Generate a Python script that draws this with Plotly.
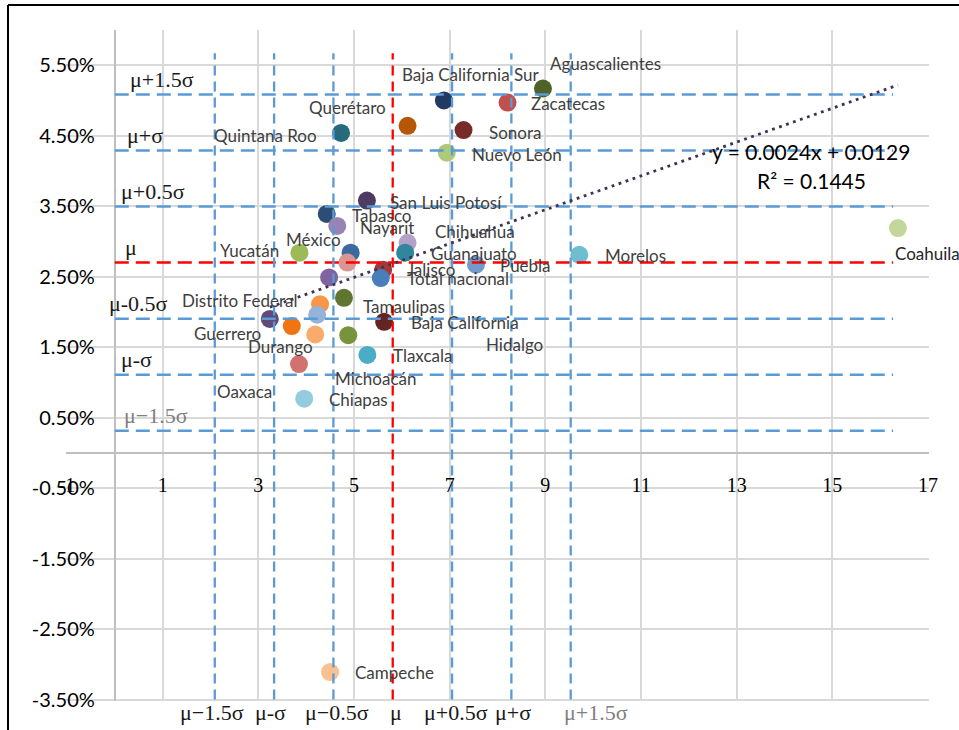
import plotly.graph_objects as go

# ---------------------------------------------------------------- data
states = [
    "Aguascalientes", "Baja California Sur", "Zacatecas", "Querétaro", "Sonora",
    "Quintana Roo", "Nuevo León", "San Luis Potosí", "Tabasco", "Nayarit",
    "Coahuila", "Yucatán", "México", "Colima", "Sinaloa", "Jalisco",
    "Total nacional", "Chihuahua", "Guanajuato", "Puebla", "Morelos",
    "Tamaulipas", "Veracruz", "Michoacán", "Distrito Federal", "Guerrero",
    "Baja California", "Durango", "Hidalgo", "Tlaxcala", "Oaxaca", "Chiapas",
    "Campeche",
]
x_values = [
    8.95, 6.88, 8.21, 6.12, 7.29,
    4.73, 6.94, 5.27, 4.43, 4.65,
    16.37, 3.86, 4.93, 4.86, 4.48, 5.61,
    5.56, 6.12, 6.07, 7.55, 9.71,
    4.79, 4.29, 4.23, 3.24, 3.70,
    5.63, 4.19, 4.88, 5.28, 3.85, 3.96,
    4.50,
]
y_values = [
    0.0517, 0.0500, 0.0497, 0.0464, 0.0458,
    0.0454, 0.0426, 0.0358, 0.0339, 0.0322,
    0.0319, 0.0284, 0.0284, 0.0270, 0.0249, 0.0260,
    0.0248, 0.0298, 0.0284, 0.0267, 0.0281,
    0.0220, 0.0211, 0.0196, 0.0190, 0.0180,
    0.0186, 0.0168, 0.0167, 0.0139, 0.0126, 0.0077,
    -0.0311,
]
unlabeled = ["Colima", "Sinaloa", "Veracruz"]

# mean / standard deviation of each axis
MU_X, SD_X = 5.81, 2.48
MU_Y, SD_Y = 0.0270, 0.0159
sigma_steps = [1.5, 1.0, 0.5, 0.0, -0.5, -1.0, -1.5]
left_band_labels = ["μ+1.5σ", "μ+σ", "μ+0.5σ", "μ", "μ-0.5σ", "μ-σ", "μ−1.5σ"]
bottom_band_labels = ["μ+1.5σ", "μ+σ", "μ+0.5σ", "μ", "μ−0.5σ", "μ-σ", "μ−1.5σ"]

# linear trend
TREND_SLOPE, TREND_INTERCEPT = 0.0024, 0.0129
R_SQUARED = 0.1445

x_ticks = [-1, 1, 3, 5, 7, 9, 11, 13, 15, 17]
x_tick_text = ["-1", "1", "3", "5", "7", "9", "11", "13", "15", "17"]
y_ticks = [-0.035, -0.025, -0.015, -0.005, 0.005, 0.015, 0.025, 0.035, 0.045, 0.055]
y_tick_text = ["-3.50%", "-2.50%", "-1.50%", "-0.50%", "0.50%", "1.50%",
               "2.50%", "3.50%", "4.50%", "5.50%"]

# ---------------------------------------------------------------- styling
marker_colors = {
    "Aguascalientes": "#4F6228", "Baja California Sur": "#203A60",
    "Zacatecas": "#C0504D", "Querétaro": "#B65708", "Sonora": "#772C2A",
    "Quintana Roo": "#276A7C", "Nuevo León": "#AFC97A",
    "San Luis Potosí": "#4D3B62", "Tabasco": "#2C4D75", "Nayarit": "#9983B5",
    "Coahuila": "#C3D69B", "Yucatán": "#9BBB59", "México": "#3A6A9E",
    "Colima": "#D99694", "Sinaloa": "#8064A2", "Jalisco": "#A5393A",
    "Total nacional": "#4A7EBB", "Chihuahua": "#B3A2C7",
    "Guanajuato": "#31859C", "Puebla": "#729ACA", "Morelos": "#6FBDD1",
    "Tamaulipas": "#5F7530", "Veracruz": "#F79646", "Michoacán": "#95B3D7",
    "Distrito Federal": "#604A7B", "Guerrero": "#EE7511",
    "Baja California": "#632523", "Durango": "#F9AB6B", "Hidalgo": "#77933C",
    "Tlaxcala": "#4BACC6", "Oaxaca": "#D27270", "Chiapas": "#93CDDD",
    "Campeche": "#FAC090",
}
# label offset from its marker in pixels (right, down)
label_offsets = {
    "Aguascalientes": (63, -25), "Baja California Sur": (27, -26),
    "Zacatecas": (60, 1), "Querétaro": (-60, -18), "Sonora": (51, 2),
    "Quintana Roo": (-76, 3), "Nuevo León": (70, 2),
    "San Luis Potosí": (79, 2), "Tabasco": (55, 2), "Nayarit": (50, 2),
    "Coahuila": (30, 25), "Yucatán": (-50, -2), "México": (-37, -13),
    "Jalisco": (48, 0), "Total nacional": (77, 0), "Chihuahua": (67, -11),
    "Guanajuato": (69, 1), "Puebla": (50, 1), "Morelos": (56, 1),
    "Tamaulipas": (60, 9), "Michoacán": (58, 64),
    "Distrito Federal": (-30, -18), "Guerrero": (-64, 7),
    "Baja California": (81, 1), "Durango": (-35, 12), "Hidalgo": (166, 9),
    "Tlaxcala": (55, 1), "Oaxaca": (-54, 27), "Chiapas": (54, 1),
    "Campeche": (64, 0),
}
left_label_x = [0.28, 0.21, 0.09, 0.17, -0.16, 0.09, 0.15]
bottom_label_dx = [25, 2, 4, 3, 4, -4, -3]

BLUE = "#5B9BD5"
RED = "#FF0000"
GRID = "#D9D9D9"
AXIS = "#BFBFBF"
SANS = "Lato, 'Open Sans', sans-serif"
SERIF = "'Liberation Serif', 'DejaVu Serif', serif"

X_RANGE = [-1.02, 17.02]
Y_RANGE = [-0.0352, 0.06]
H_LINE_X = [0, 16.27]
V_LINE_Y = [-0.035, 0.0567]

W, H = 959, 730
M_L, M_R, M_T, M_B = 66, 30, 30, 29

fig = go.Figure()

# state markers
fig.add_trace(go.Scatter(
    x=x_values, y=y_values, mode="markers",
    marker=dict(size=18, color=[marker_colors[s] for s in states], line=dict(width=0)),
    text=states, hoverinfo="text", cliponaxis=False,
))

# horizontal bands (y mean +/- k sigma)
for k in sigma_steps:
    yv = MU_Y + k * SD_Y
    col = RED if k == 0 else BLUE
    fig.add_trace(go.Scatter(
        x=H_LINE_X, y=[yv, yv], mode="lines",
        line=dict(color=col, width=2.5, dash="14px,7px"), hoverinfo="skip",
    ))

# vertical bands (x mean +/- k sigma)
for k in sigma_steps:
    xv = MU_X + k * SD_X
    col = RED if k == 0 else BLUE
    fig.add_trace(go.Scatter(
        x=[xv, xv], y=V_LINE_Y, mode="lines",
        line=dict(color=col, width=2.3, dash="10px,6px"), hoverinfo="skip",
    ))

# trend line across the observed x range
tx = [min(x_values), max(x_values)]
fig.add_trace(go.Scatter(
    x=tx, y=[TREND_SLOPE * v + TREND_INTERCEPT for v in tx], mode="lines",
    line=dict(color="#3F3151", width=2.8, dash="2.8px,4.6px"), hoverinfo="skip",
))

annotations = []
# state labels
for s, xv, yv in zip(states, x_values, y_values):
    if s in unlabeled:
        continue
    dx, dy = label_offsets[s]
    annotations.append(dict(
        x=xv, y=yv, text=s, showarrow=False, xanchor="center", yanchor="middle",
        xshift=dx, yshift=-dy,
        font=dict(family=SANS, size=17, color="#262626" if s == "Coahuila" else "#404040"),
    ))

# band labels on the left
for k, lab, lx in zip(sigma_steps, left_band_labels, left_label_x):
    annotations.append(dict(
        x=lx, y=MU_Y + k * SD_Y, text=lab, showarrow=False,
        xanchor="left", yanchor="middle", yshift=15,
        font=dict(family=SERIF, size=22, color="#7F7F7F" if k == -1.5 else "#1A1A1A"),
    ))

# band labels below the plot
for k, lab, dx in zip(sigma_steps, bottom_band_labels, bottom_label_dx):
    annotations.append(dict(
        x=MU_X + k * SD_X, xref="x", y=0, yref="paper", text=lab, showarrow=False,
        xanchor="center", yanchor="middle", xshift=dx, yshift=-11,
        font=dict(family=SERIF, size=22, color="#7F7F7F" if k == 1.5 else "#1A1A1A"),
    ))

# trend equation
annotations.append(dict(
    x=14.56, y=0.0427, text=f"y = {TREND_SLOPE:.4f}x + {TREND_INTERCEPT:.4f}",
    showarrow=False, xanchor="center", yanchor="middle",
    font=dict(family=SANS, size=21, color="#000000"),
))
annotations.append(dict(
    x=14.56, y=0.0387, text=f"R² = {R_SQUARED:.4f}",
    showarrow=False, xanchor="center", yanchor="middle",
    font=dict(family=SANS, size=21, color="#000000"),
))

# outer frame (left and top edges)
pw, ph = W - M_L - M_R, H - M_T - M_B
def px_to_paper_x(px):
    return (px - M_L) / pw
def px_to_paper_y(py):
    return (H - M_B - py) / ph

shapes = [
    dict(type="line", xref="paper", yref="paper",
         x0=px_to_paper_x(8), x1=px_to_paper_x(8),
         y0=px_to_paper_y(H + 2), y1=px_to_paper_y(5),
         line=dict(color="#000000", width=2)),
    dict(type="line", xref="paper", yref="paper",
         x0=px_to_paper_x(8), x1=px_to_paper_x(W + 2),
         y0=px_to_paper_y(5), y1=px_to_paper_y(5),
         line=dict(color="#000000", width=2)),
]

fig.update_layout(
    width=W, height=H,
    margin=dict(l=M_L, r=M_R, t=M_T, b=M_B),
    plot_bgcolor="white", paper_bgcolor="white",
    showlegend=False,
    annotations=annotations, shapes=shapes,
    xaxis=dict(
        range=X_RANGE, tickmode="array", tickvals=x_ticks, ticktext=x_tick_text,
        showgrid=True, gridcolor=GRID, gridwidth=1.5,
        zeroline=True, zerolinecolor=AXIS, zerolinewidth=1.5,
        showline=False, ticks="",
        anchor="free", position=(0 - Y_RANGE[0]) / (Y_RANGE[1] - Y_RANGE[0]),
        tickfont=dict(family=SERIF, size=20, color="#000000"),
        ticklabelstandoff=18,
    ),
    yaxis=dict(
        range=Y_RANGE, tickmode="array", tickvals=y_ticks, ticktext=y_tick_text,
        showgrid=True, gridcolor=GRID, gridwidth=1.5,
        zeroline=True, zerolinecolor=AXIS, zerolinewidth=1.5,
        showline=False, ticks="",
        anchor="free", position=(0 - X_RANGE[0]) / (X_RANGE[1] - X_RANGE[0]),
        tickfont=dict(family=SANS, size=20, color="#000000"),
        ticklabelstandoff=20,
    ),
)

fig.write_html("out.html")
